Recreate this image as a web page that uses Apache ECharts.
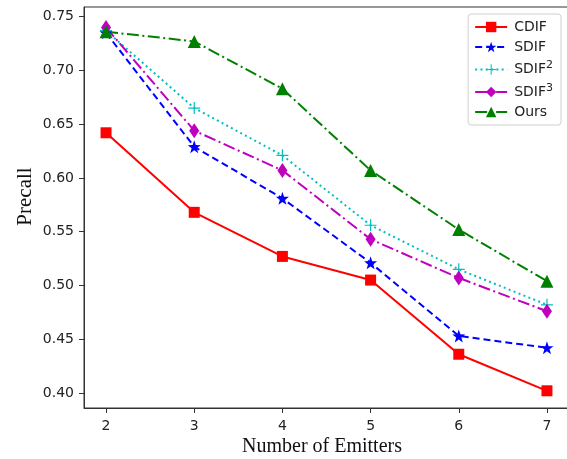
<!DOCTYPE html>
<html>

<head>
  <meta charset="utf-8">
  <title>Precall vs Number of Emitters</title>
  <script src="https://cdn.jsdelivr.net/npm/echarts@6/dist/echarts.min.js"></script>
</head>

<body style="margin:0">
  <div id="main" style="width: 567px;height:459px;"></div>
  <script type="text/javascript">
    // data
    var emitters = [2, 3, 4, 5, 6, 7];
    var cdif = [0.642, 0.568, 0.527, 0.505, 0.436, 0.402];
    var sdif = [0.735, 0.629, 0.581, 0.521, 0.453, 0.442];
    var sdif2 = [0.737, 0.665, 0.621, 0.556, 0.515, 0.482];
    var sdif3 = [0.740, 0.644, 0.607, 0.543, 0.507, 0.476];
    var ours = [0.736, 0.727, 0.683, 0.607, 0.552, 0.504];
    var yTicks = [0.40, 0.45, 0.50, 0.55, 0.60, 0.65, 0.70, 0.75];

    var myChart = echarts.init(document.getElementById('main'));

    function pairs(vals) {
      return emitters.map(function (x, i) { return [x, vals[i]]; });
    }

    // five point star as a symbol path
    function starPath() {
      var pts = [];
      for (var i = 0; i < 10; i++) {
        var r = i % 2 === 0 ? 10 : 4;
        var a = -Math.PI / 2 + i * Math.PI / 5;
        pts.push((10 + r * Math.cos(a)).toFixed(2) + ' ' + (10 + r * Math.sin(a)).toFixed(2));
      }
      return 'path://M' + pts.join(' L') + ' Z';
    }
    var plusPath = 'path://M9 0 L11 0 L11 9 L20 9 L20 11 L11 11 L11 20 L9 20 L9 11 L0 11 L0 9 L9 9 Z';

    var tickFont = { fontFamily: 'DejaVu Sans', fontSize: 14, color: '#222' };

    var option = {
      animation: false,
      grid: {
        left: 84, top: 7, right: -2, bottom: 51,
        outerBoundsMode: 'none', containLabel: false,
        show: true, borderColor: '#333', borderWidth: 1, backgroundColor: 'transparent'
      },
      legend: {
        right: 6, top: 14,
        orient: 'vertical',
        itemWidth: 32, itemHeight: 13, itemGap: 6,
        padding: [6, 8, 6, 6],
        borderColor: '#d0d0d0', borderWidth: 1, borderRadius: 3,
        backgroundColor: '#fff',
        textStyle: {
          fontFamily: 'DejaVu Sans', fontSize: 14, color: '#222', padding: [0, 0, 0, 2],
          rich: { sup: { fontFamily: 'DejaVu Sans', fontSize: 11, verticalAlign: 'bottom', padding: [0, 0, 8, 0], color: '#222' } }
        },
        formatter: function (name) {
          if (name === 'SDIF2') return 'SDIF{sup|2}';
          if (name === 'SDIF3') return 'SDIF{sup|3}';
          return name;
        },
        data: ['CDIF', 'SDIF', 'SDIF2', 'SDIF3', 'Ours']
      },
      xAxis: {
        type: 'value',
        min: 1.75, max: 7.25,
        name: 'Number of Emitters',
        nameLocation: 'middle',
        nameGap: 29,
        nameMoveOverlap: false,
        nameTextStyle: { fontFamily: 'Liberation Serif', fontSize: 20, color: '#111', padding: [0, 9, 0, 0] },
        axisLine: { show: true, lineStyle: { color: '#333' } },
        axisTick: { show: true, length: 5, customValues: emitters, lineStyle: { color: '#333' } },
        axisLabel: Object.assign({ customValues: emitters, margin: 11 }, tickFont),
        splitLine: { show: false }
      },
      yAxis: {
        type: 'value',
        min: 0.386, max: 0.759,
        name: 'Precall',
        nameLocation: 'middle',
        nameGap: 48,
        nameMoveOverlap: false,
        nameTextStyle: { fontFamily: 'Liberation Serif', fontSize: 21, color: '#111', padding: [0, 0, 0, 22] },
        axisLine: { show: true, lineStyle: { color: '#333' } },
        axisTick: { show: true, length: 5, customValues: yTicks, lineStyle: { color: '#333' } },
        axisLabel: Object.assign({
          customValues: yTicks, margin: 10,
          formatter: function (v) { return v.toFixed(2); }
        }, tickFont),
        splitLine: { show: false }
      },
      series: [{
        name: 'CDIF', type: 'line', data: pairs(cdif),
        symbol: 'rect', symbolSize: 11,
        itemStyle: { color: '#ff0000' },
        lineStyle: { color: '#ff0000', width: 2 }
      }, {
        name: 'SDIF', type: 'line', data: pairs(sdif),
        symbol: starPath(), symbolSize: 13,
        itemStyle: { color: '#0000ff' },
        lineStyle: { color: '#0000ff', width: 2, type: [7, 4] }
      }, {
        name: 'SDIF2', type: 'line', data: pairs(sdif2),
        symbol: plusPath, symbolSize: 12,
        itemStyle: { color: '#00bfbf' },
        lineStyle: { color: '#00bfbf', width: 2, type: [2, 3.3] }
      }, {
        name: 'SDIF3', type: 'line', data: pairs(sdif3),
        symbol: 'diamond', symbolSize: [10, 15],
        itemStyle: { color: '#bf00bf' },
        lineStyle: { color: '#bf00bf', width: 2, type: [12, 3.5, 2, 3.5] }
      }, {
        name: 'Ours', type: 'line', data: pairs(ours),
        symbol: 'triangle', symbolSize: 13,
        itemStyle: { color: '#008000' },
        lineStyle: { color: '#008000', width: 2, type: [12, 3.5, 2, 3.5] }
      }]
    };

    myChart.setOption(option);
  </script>
</body>

</html>
